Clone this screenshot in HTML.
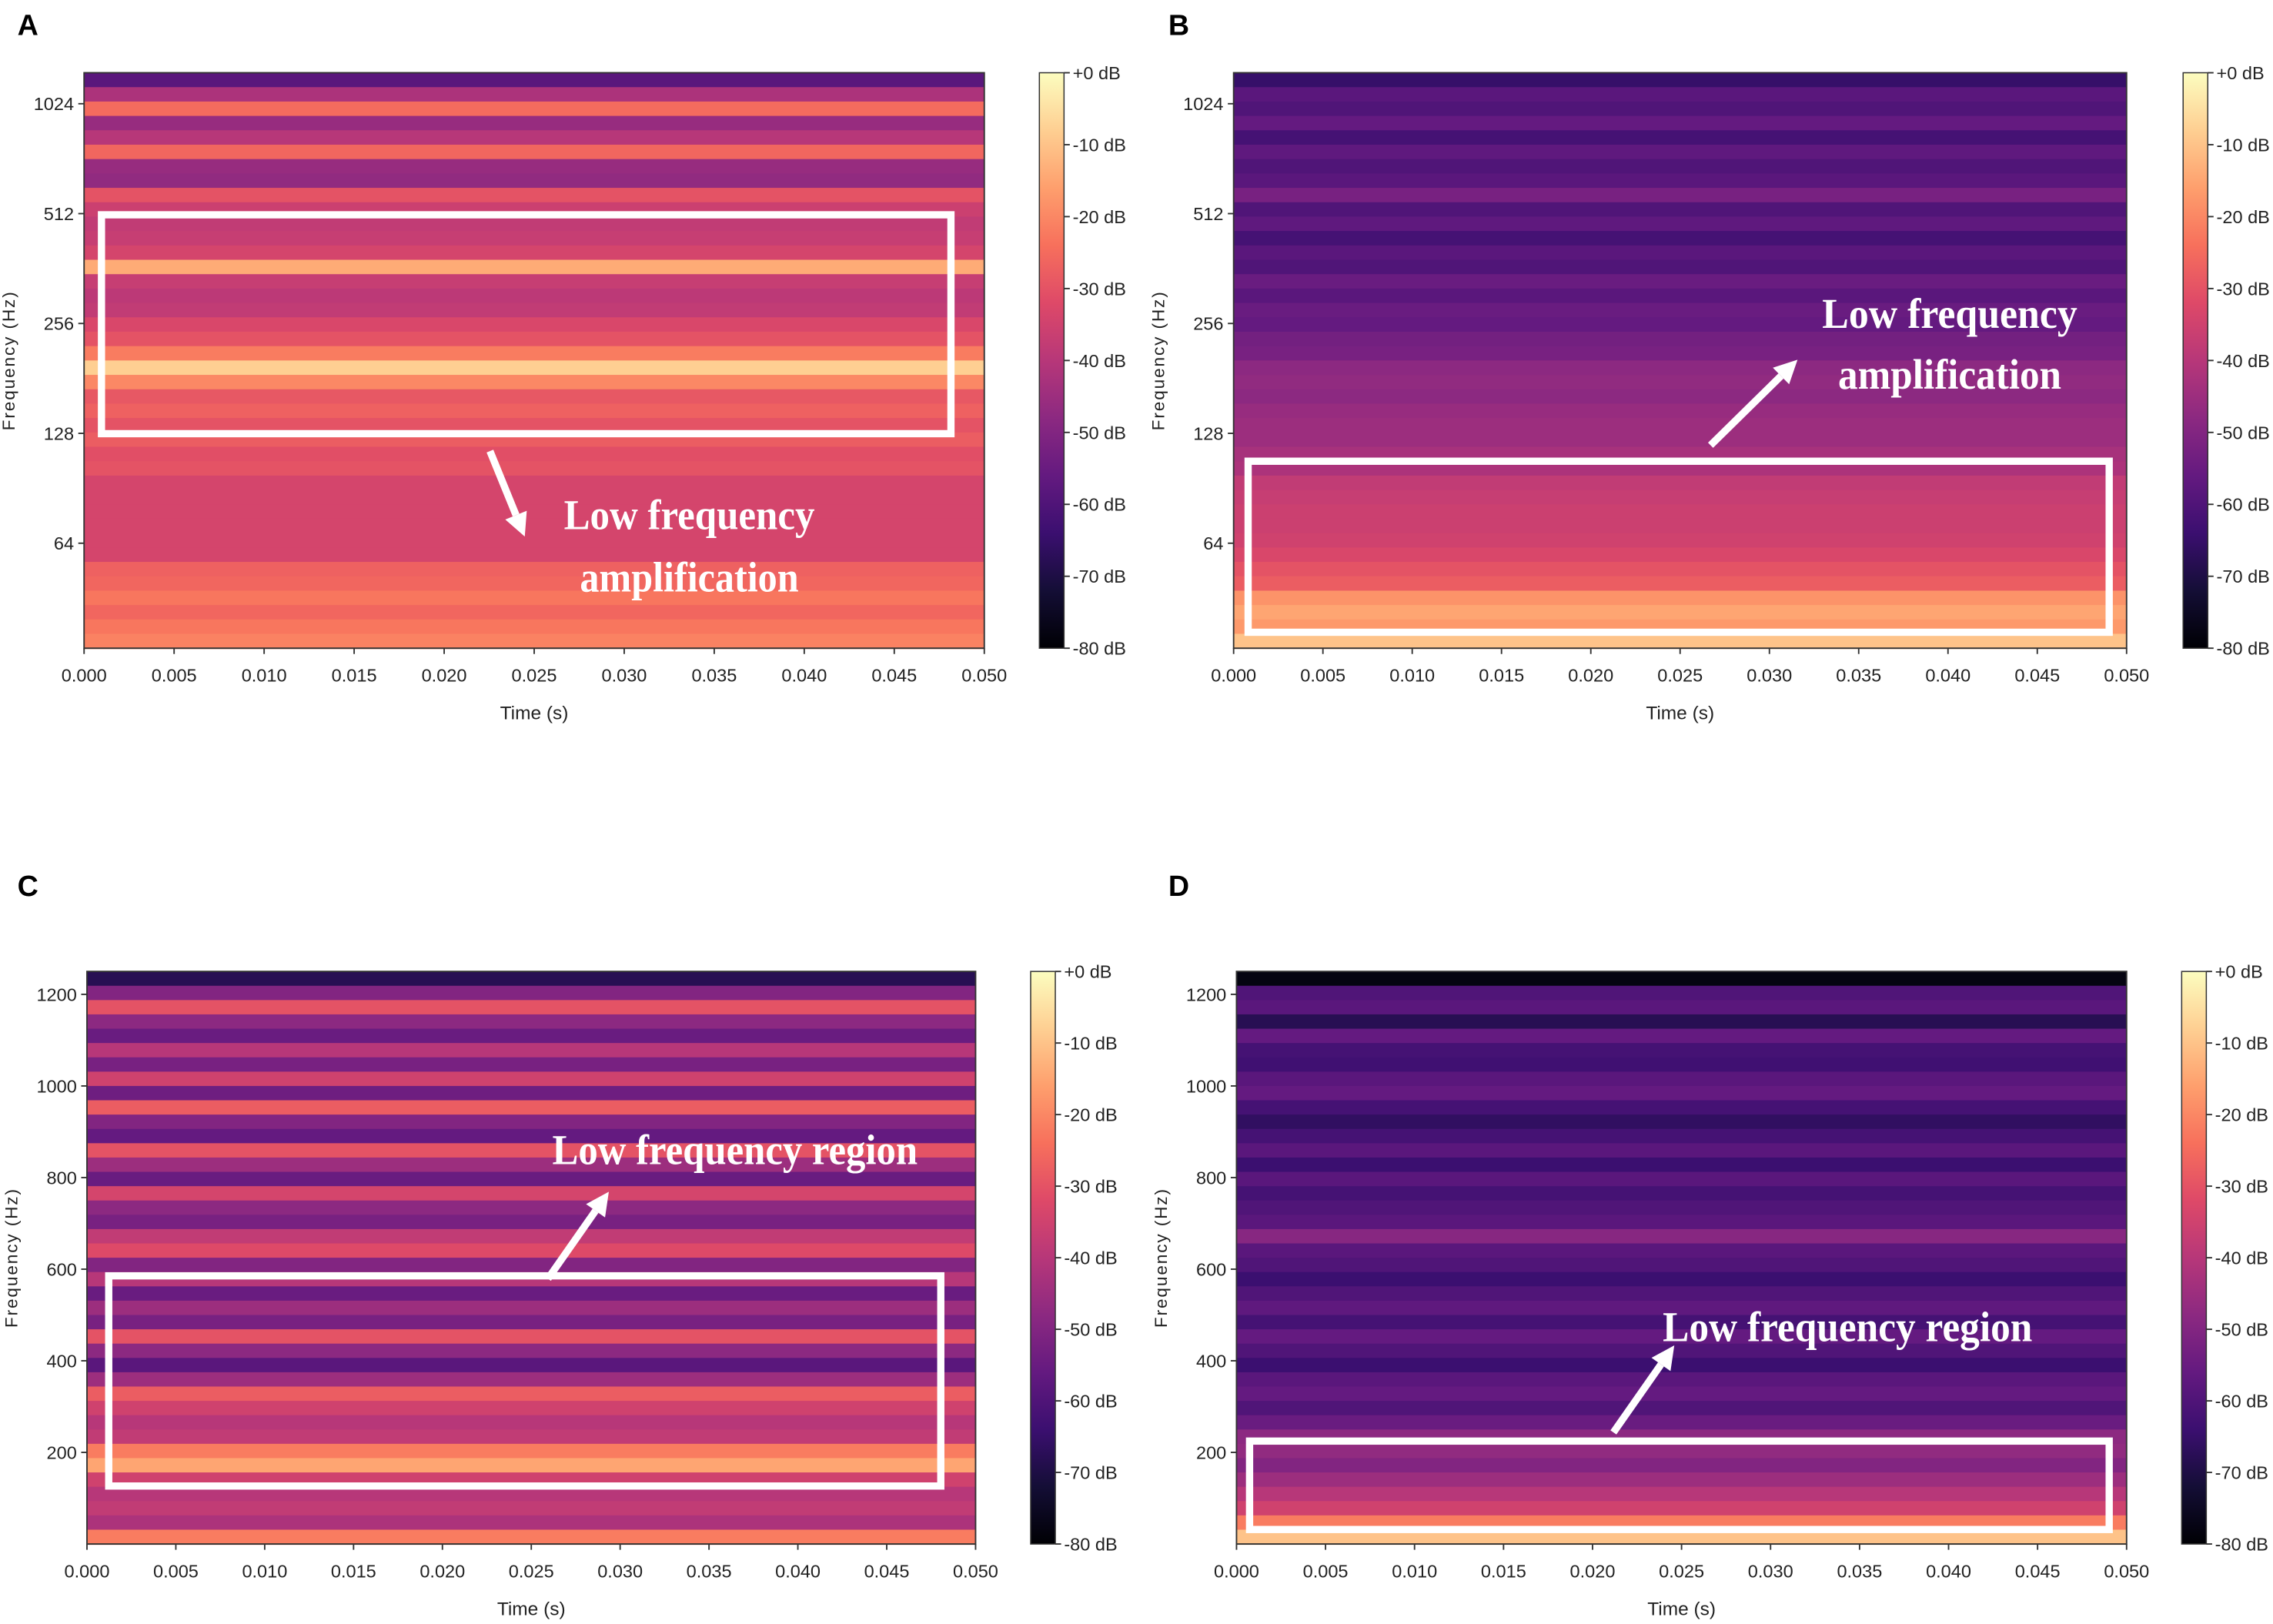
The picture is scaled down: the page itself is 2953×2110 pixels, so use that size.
<!DOCTYPE html>
<html><head><meta charset="utf-8"><style>
html,body{margin:0;padding:0;background:#fff;}
svg{display:block;}
text{font-family:"Liberation Sans",sans-serif;}
</style></head><body>
<svg id="fig" width="2953" height="2110" viewBox="0 0 1568 1120" xmlns="http://www.w3.org/2000/svg">
<defs>
<linearGradient id="magma" x1="0" y1="1" x2="0" y2="0">
<stop offset="0" stop-color="#000004"/><stop offset="0.1" stop-color="#140e36"/><stop offset="0.2" stop-color="#3b0f70"/><stop offset="0.3" stop-color="#641a80"/><stop offset="0.4" stop-color="#8c2981"/><stop offset="0.5" stop-color="#b73779"/><stop offset="0.6" stop-color="#de4968"/><stop offset="0.7" stop-color="#f7705c"/><stop offset="0.8" stop-color="#fe9f6d"/><stop offset="0.9" stop-color="#fecf92"/><stop offset="1" stop-color="#fcfdbf"/>
</linearGradient>
</defs>
</svg>
<script>
// ---- data (dB per frequency band, top to bottom) ----
const dbA = [-58,-42,-25,-46,-40,-26,-46,-47,-30,-36,-38,-37,-34,-14,-37,-39,-38,-33,-30,-22,-8,-20,-29,-27,-30,-28,-31,-30,-34,-34,-34,-34,-34,-34,-27,-26,-23,-26,-23,-21];
const dbB = [-65,-58,-60,-56,-62,-57,-60,-58,-52,-60,-57,-62,-58,-60,-55,-58,-55,-56,-53,-52,-48,-47,-48,-46,-45,-45,-43,-42,-38,-37,-36,-36,-35,-33,-30,-28,-18,-15,-17,-10];
const dbC = [-68,-50,-30,-48,-55,-40,-52,-35,-54,-28,-50,-56,-30,-45,-55,-34,-48,-52,-38,-32,-50,-40,-55,-45,-52,-30,-48,-58,-45,-28,-35,-40,-38,-22,-15,-35,-40,-38,-42,-22];
const dbD = [-78,-60,-58,-68,-56,-62,-63,-58,-56,-62,-66,-62,-58,-64,-58,-62,-60,-58,-49,-58,-60,-64,-60,-57,-62,-56,-60,-64,-58,-56,-60,-55,-48,-47,-50,-45,-40,-35,-22,-10];
const timeTicks = [0,0.005,0.010,0.015,0.020,0.025,0.030,0.035,0.040,0.045,0.050];
const logTicks = [64,128,256,512,1024];
const linTicks = [200,400,600,800,1000,1200];
const cbTicks = [0,-10,-20,-30,-40,-50,-60,-70,-80];

const NS="http://www.w3.org/2000/svg";
const svg=document.getElementById('fig');
function mk(tag,attrs,parent){const e=document.createElementNS(NS,tag);for(const k in attrs)e.setAttribute(k,attrs[k]);(parent||svg).appendChild(e);return e;}
const stops=[[0,[0,0,4]],[0.1,[20,14,54]],[0.2,[59,15,112]],[0.3,[100,26,128]],[0.4,[140,41,129]],[0.5,[183,55,121]],[0.6,[222,73,104]],[0.7,[247,112,92]],[0.8,[254,159,109]],[0.9,[254,207,146]],[1,[252,253,191]]];
function magma(db){let t=Math.max(0,Math.min(1,(db+80)/80));for(let i=1;i<stops.length;i++){if(t<=stops[i][0]){const a=stops[i-1],b=stops[i];const f=(t-a[0])/(b[0]-a[0]);const c=a[1].map((v,j)=>Math.round(v+(b[1][j]-v)*f));return `rgb(${c})`;}}return 'rgb(252,253,191)';}

function panel(p){
  const g=mk('g',{});
  
  
  const xs=t=>p.x0+(t/0.05)*(p.x1-p.x0);
  let ys, lo, hi;
  if(p.log){lo=Math.log2(p.fmin);hi=Math.log2(p.fmax);ys=f=>p.y1-(Math.log2(f)-lo)/(hi-lo)*(p.y1-p.y0);}
  else{lo=p.fmin;hi=p.fmax;ys=f=>p.y1-(f-lo)/(hi-lo)*(p.y1-p.y0);}
  const n=p.data.length;
  p.data.forEach((db,i)=>{
    // band i from top: edges in axis value space
    const vt=hi-(hi-lo)*i/n, vb=hi-(hi-lo)*(i+1)/n;
    const ft=p.log?Math.pow(2,vt):vt, fb=p.log?Math.pow(2,vb):vb;
    const yt=ys(ft), yb=ys(fb);
    const r=mk('rect',{x:p.x0,y:yt,width:p.x1-p.x0,height:yb-yt+0.6,fill:magma(db)},g);
    
    
  });
  const fr=mk('rect',{x:p.x0,y:p.y0,width:p.x1-p.x0,height:p.y1-p.y0,fill:'none',stroke:'#333','stroke-width':1},g);
  
  
  timeTicks.forEach(t=>{
    const x=xs(t);
    mk('line',{x1:x,y1:p.y1,x2:x,y2:p.y1+4,stroke:'#333'},g);
    const tx=mk('text',{x:x,y:p.y1+23,'font-size':12.5,'text-anchor':'middle',fill:'#222'},g);
    tx.textContent=t.toFixed(3);
    
    
  });
  const xt=mk('text',{x:(p.x0+p.x1)/2,y:p.y1+49,'font-size':13,'text-anchor':'middle',fill:'#222'},g);
  xt.textContent='Time (s)';
  
  
  (p.log?logTicks:linTicks).forEach(f=>{
    const y=ys(f);
    mk('line',{x1:p.x0-4,y1:y,x2:p.x0,y2:y,stroke:'#333'},g);
    const tx=mk('text',{x:p.x0-7,y:y+4.5,'font-size':12.5,'text-anchor':'end',fill:'#222'},g);
    tx.textContent=String(f);
    
    
  });
  const cy=(p.y0+p.y1)/2;
  const yt=mk('text',{x:0,y:0,'font-size':12,'text-anchor':'middle',fill:'#222','letter-spacing':1,transform:`translate(${p.x0-48},${cy}) rotate(-90)`},g);
  yt.textContent='Frequency (Hz)';
  
  
  // colorbar
  const cb=mk('rect',{x:p.cb,y:p.y0,width:17,height:p.y1-p.y0,fill:'url(#magma)',stroke:'#333','stroke-width':0.8},g);
  
  
  cbTicks.forEach(d=>{
    const y=p.y0+(-d/80)*(p.y1-p.y0);
    mk('line',{x1:p.cb+17,y1:y,x2:p.cb+21,y2:y,stroke:'#333'},g);
    const tx=mk('text',{x:p.cb+23,y:y+4.5,'font-size':12.5,fill:'#222'},g);
    tx.textContent=(d===0?'+0':String(d))+' dB';
    
    
  });
  const lt=mk('text',{x:p.lx,y:p.ly,'font-size':20,'font-weight':'bold',fill:'#000'},g);
  lt.textContent=p.letter;
  
  
  // highlight box
  const hb=mk('rect',{x:p.box[0],y:p.box[1],width:p.box[2]-p.box[0],height:p.box[3]-p.box[1],fill:'none',stroke:'#fff','stroke-width':5},g);
  
  
  // arrow
  const [ax1,ay1,ax2,ay2]=p.arrow;
  const ang=Math.atan2(ay2-ay1,ax2-ax1), L=16, W=8;
  const bx=ax2-L*Math.cos(ang), by=ay2-L*Math.sin(ang);
  const ar=mk('g',{},g);
  
  
  mk('line',{x1:ax1,y1:ay1,x2:bx,y2:by,stroke:'#fff','stroke-width':5},ar);
  mk('polygon',{points:`${ax2},${ay2} ${bx+W*Math.sin(ang)},${by-W*Math.cos(ang)} ${bx-W*Math.sin(ang)},${by+W*Math.cos(ang)}`,fill:'#fff'},ar);
  p.texts.forEach(tt=>{
    const tx=mk('text',{x:tt[0],y:tt[1],'font-size':29,'font-weight':'bold',fill:'#fff',textLength:tt[3],lengthAdjust:'spacingAndGlyphs',style:'font-family:"Liberation Serif",serif'},g);
    tx.textContent=tt[2];
    
    
  });
}
panel({letter:'A',lx:12,ly:24,x0:58,x1:679,y0:50,y1:447,cb:717,log:true,fmin:33,fmax:1245,data:dbA,box:[70,148,656,299],arrow:[338,311,362,370],texts:[[389,365,'Low frequency',173],[400,408,'amplification',151]]});
panel({letter:'B',lx:806,ly:24,x0:851,x1:1467,y0:50,y1:447,cb:1506,log:true,fmin:33,fmax:1245,data:dbB,box:[861,318,1455,436],arrow:[1180,307,1240,248],texts:[[1257,226,'Low frequency',176],[1268,268,'amplification',154]]});
panel({letter:'C',lx:12,ly:618,x0:60,x1:673,y0:670,y1:1065,cb:711,log:false,fmin:0,fmax:1250,data:dbC,box:[75,880,649,1025],arrow:[378,882,420,822],texts:[[381,803,'Low frequency region',252]]});
panel({letter:'D',lx:806,ly:618,x0:853,x1:1467,y0:670,y1:1065,cb:1505,log:false,fmin:0,fmax:1250,data:dbD,box:[862,994,1455,1055],arrow:[1113,988,1155,928],texts:[[1147,925,'Low frequency region',255]]});
</script>
</body></html>
